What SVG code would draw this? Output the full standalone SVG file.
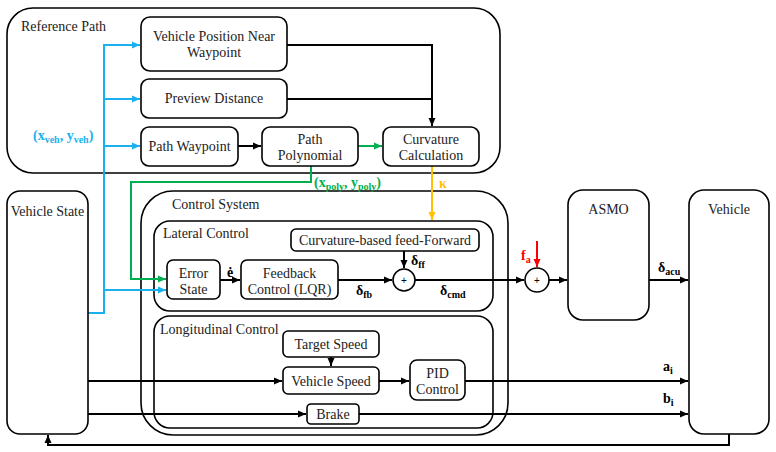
<svg xmlns="http://www.w3.org/2000/svg" width="776" height="452" viewBox="0 0 776 452">
<defs>
<style>
.box{fill:#fff;stroke:#000;stroke-width:1.6}
.grp{fill:none;stroke:#000;stroke-width:1.6}
.t{font-family:"Liberation Serif","DejaVu Serif",serif;font-size:14px;fill:#222}
.c{text-anchor:middle}
.m{font-family:"Liberation Serif","DejaVu Serif",serif;font-weight:bold;font-size:14px;fill:#000}
.s{font-size:10px}
.k{fill:none;stroke:#000;stroke-width:2}
.b{fill:none;stroke:#1AB0F0;stroke-width:2}
.g{fill:none;stroke:#00B050;stroke-width:2}
.o{fill:none;stroke:#FFC000;stroke-width:2}
.r{fill:none;stroke:#FF0000;stroke-width:2}
</style>
<marker id="ak" markerUnits="userSpaceOnUse" markerWidth="9" markerHeight="8" refX="8" refY="4" orient="auto"><path d="M0,0.5L8,4L0,7.5z" fill="#000"/></marker>
<marker id="ab" markerUnits="userSpaceOnUse" markerWidth="9" markerHeight="8" refX="8" refY="4" orient="auto"><path d="M0,0.5L8,4L0,7.5z" fill="#1AB0F0"/></marker>
<marker id="ag" markerUnits="userSpaceOnUse" markerWidth="9" markerHeight="8" refX="8" refY="4" orient="auto"><path d="M0,0.5L8,4L0,7.5z" fill="#00B050"/></marker>
<marker id="ao" markerUnits="userSpaceOnUse" markerWidth="9" markerHeight="8" refX="8" refY="4" orient="auto"><path d="M0,0.5L8,4L0,7.5z" fill="#FFC000"/></marker>
<marker id="ar" markerUnits="userSpaceOnUse" markerWidth="9" markerHeight="8" refX="8" refY="4" orient="auto"><path d="M0,0.5L8,4L0,7.5z" fill="#FF0000"/></marker>
</defs>
<rect width="776" height="452" fill="#fff"/>

<g id="reference-path">
<rect class="grp" x="7" y="8" width="493" height="165" rx="26"/>
<text class="t" x="21" y="31">Reference Path</text>
</g>
<g id="control-system">
<rect class="grp" x="141" y="191" width="367" height="244" rx="32"/>
<text class="t" x="172" y="209">Control System</text>
</g>
<g id="lateral-control">
<rect class="grp" x="154" y="221" width="339" height="90" rx="16"/>
<text class="t" x="163" y="238">Lateral Control</text>
</g>
<g id="longitudinal-control">
<rect class="grp" x="154" y="316" width="339" height="112" rx="16"/>
<text class="t" x="160" y="334">Longitudinal Control</text>
</g>

<g id="connectors">
<!-- reference path black -->
<polyline class="k" points="287,45 432,45 432,126" marker-end="url(#ak)"/>
<line class="k" x1="287" y1="99" x2="432" y2="99"/>
<line class="k" x1="238" y1="146" x2="261" y2="146" marker-end="url(#ak)"/>
<line class="g" x1="358" y1="146" x2="382" y2="146" marker-end="url(#ag)"/>
<!-- blue -->
<polyline class="b" points="88,313 104,313 104,45 140,45" marker-end="url(#ab)"/>
<line class="b" x1="104" y1="99" x2="140" y2="99" marker-end="url(#ab)"/>
<line class="b" x1="104" y1="146" x2="140" y2="146" marker-end="url(#ab)"/>
<line class="b" x1="104" y1="290" x2="166" y2="290" marker-end="url(#ab)"/>
<!-- green -->
<polyline class="g" points="311,166 311,182 131,182 131,279 166,279" marker-end="url(#ag)"/>
<!-- orange -->
<line class="o" x1="432" y1="166" x2="432" y2="220" marker-end="url(#ao)"/>
<!-- lateral -->
<line class="k" x1="220" y1="280" x2="240" y2="280" marker-end="url(#ak)"/>
<line class="k" x1="404" y1="251" x2="404" y2="268" marker-end="url(#ak)"/>
<line class="k" x1="338" y1="280" x2="392" y2="280" marker-end="url(#ak)"/>
<line class="k" x1="415" y1="280" x2="524" y2="280" marker-end="url(#ak)"/>
<line class="r" x1="537" y1="241" x2="537" y2="267" marker-end="url(#ar)"/>
<line class="k" x1="549" y1="280" x2="567" y2="280" marker-end="url(#ak)"/>
<line class="k" x1="649" y1="280" x2="688" y2="280" marker-end="url(#ak)"/>
<!-- longitudinal -->
<line class="k" x1="331" y1="357" x2="331" y2="366" marker-end="url(#ak)"/>
<line class="k" x1="88" y1="381" x2="282" y2="381" marker-end="url(#ak)"/>
<line class="k" x1="379" y1="381" x2="409" y2="381" marker-end="url(#ak)"/>
<line class="k" x1="465" y1="381" x2="688" y2="381" marker-end="url(#ak)"/>
<line class="k" x1="88" y1="414" x2="306" y2="414" marker-end="url(#ak)"/>
<line class="k" x1="359" y1="414" x2="688" y2="414" marker-end="url(#ak)"/>
<!-- feedback -->
<polyline class="k" points="729,434 729,445 48,445 48,435" marker-end="url(#ak)"/>
</g>

<g id="vehicle-position">
<rect class="box" x="141" y="17" width="146" height="54" rx="9"/>
<text class="t c" x="214" y="41">Vehicle Position Near</text>
<text class="t c" x="214" y="57">Waypoint</text>
</g>
<g id="preview-distance">
<rect class="box" x="141" y="79" width="146" height="39" rx="8"/>
<text class="t c" x="214" y="103">Preview Distance</text>
</g>
<g id="path-waypoint">
<rect class="box" x="141" y="127" width="97" height="39" rx="8"/>
<text class="t c" x="189.5" y="151">Path Waypoint</text>
</g>
<g id="path-polynomial">
<rect class="box" x="262" y="127" width="96" height="39" rx="8"/>
<text class="t c" x="310" y="144">Path</text>
<text class="t c" x="310" y="160">Polynomial</text>
</g>
<g id="curvature-calculation">
<rect class="box" x="383" y="127" width="96" height="39" rx="8"/>
<text class="t c" x="431" y="144">Curvature</text>
<text class="t c" x="431" y="160">Calculation</text>
</g>
<g id="vehicle-state">
<rect class="box" x="7" y="191" width="81" height="243" rx="13"/>
<text class="t c" x="47.5" y="216">Vehicle State</text>
</g>
<g id="feed-forward">
<rect class="box" x="291" y="229" width="188" height="22" rx="5"/>
<text class="t c" x="385" y="245">Curvature-based feed-Forward</text>
</g>
<g id="error-state">
<rect class="box" x="167" y="260" width="53" height="39" rx="6"/>
<text class="t c" x="193.5" y="278">Error</text>
<text class="t c" x="193.5" y="294">State</text>
</g>
<g id="feedback-control">
<rect class="box" x="241" y="260" width="97" height="39" rx="6"/>
<text class="t c" x="289.5" y="278">Feedback</text>
<text class="t c" x="289.5" y="294">Control (LQR)</text>
</g>
<g id="sum-1">
<circle class="box" cx="404" cy="280" r="11"/>
<text x="404" y="284" text-anchor="middle" font-family="Liberation Sans,sans-serif" font-size="10">+</text>
</g>
<g id="sum-2">
<circle class="box" cx="537" cy="280" r="12"/>
<text x="537" y="284" text-anchor="middle" font-family="Liberation Sans,sans-serif" font-size="10">+</text>
</g>
<g id="asmo">
<rect class="box" x="568" y="190" width="81" height="130" rx="15"/>
<text class="t c" x="608.5" y="214">ASMO</text>
</g>
<g id="vehicle">
<rect class="box" x="689" y="190" width="80" height="244" rx="15"/>
<text class="t c" x="729" y="214">Vehicle</text>
</g>
<g id="target-speed">
<rect class="box" x="283" y="331" width="96" height="26" rx="5"/>
<text class="t c" x="331" y="349">Target Speed</text>
</g>
<g id="vehicle-speed">
<rect class="box" x="283" y="367" width="96" height="27" rx="5"/>
<text class="t c" x="331" y="386">Vehicle Speed</text>
</g>
<g id="pid-control">
<rect class="box" x="410" y="360" width="55" height="40" rx="7"/>
<text class="t c" x="437.5" y="378">PID</text>
<text class="t c" x="437.5" y="394">Control</text>
</g>
<g id="brake">
<rect class="box" x="307" y="404" width="52" height="20" rx="4"/>
<text class="t c" x="333" y="419">Brake</text>
</g>

<g id="labels">
<text class="m" x="33" y="140" fill="#1AB0F0" style="fill:#1AB0F0">(x<tspan class="s" dy="3">veh</tspan><tspan dy="-3">, y</tspan><tspan class="s" dy="3">veh</tspan><tspan dy="-3">)</tspan></text>
<text class="m" x="314" y="187" style="fill:#00B050">(x<tspan class="s" dy="3">poly</tspan><tspan dy="-3">, y</tspan><tspan class="s" dy="3">poly</tspan><tspan dy="-3">)</tspan></text>
<text class="m" x="439" y="188" style="fill:#FFC000">κ</text>
<text class="m" x="227" y="277">ė</text>
<text class="m" x="411" y="265">δ<tspan class="s" dy="3">ff</tspan></text>
<text class="m" x="356" y="295">δ<tspan class="s" dy="3">fb</tspan></text>
<text class="m" x="440" y="295">δ<tspan class="s" dy="3">cmd</tspan></text>
<text class="m" x="521" y="260" style="fill:#FF0000">f<tspan class="s" dy="3">a</tspan></text>
<text class="m" x="658" y="272">δ<tspan class="s" dy="3">acu</tspan></text>
<text class="m" x="663" y="371">a<tspan class="s" dy="3">i</tspan></text>
<text class="m" x="663" y="403">b<tspan class="s" dy="3">i</tspan></text>
</g>
</svg>
